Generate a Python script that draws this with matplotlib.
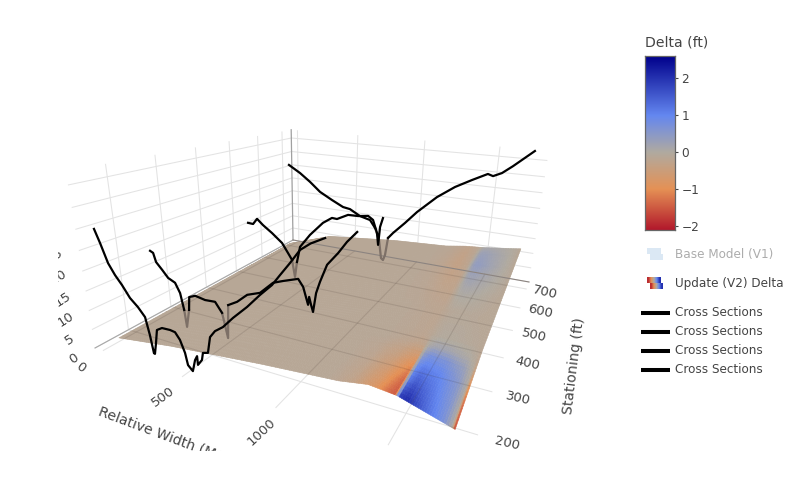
import numpy as np
import matplotlib
matplotlib.use('Agg')
import matplotlib.pyplot as plt
from matplotlib.colors import LinearSegmentedColormap, Normalize
from matplotlib.patches import Polygon
from matplotlib.transforms import Bbox
from mpl_toolkits.mplot3d import proj3d

# Cross sections: stationing of each one, then relative width and elevation
section_stations = [150, 249, 529, 700]
section_width = [
    [0, 26, 60, 95, 132, 173, 217, 255, 272, 284, 290, 305, 321, 354, 403, 432, 457, 480, 491, 517, 536, 550, 551, 577,
     586, 615, 634, 664, 709, 766, 841, 907, 966, 1004, 1051, 1095, 1140, 1200],
    [2, 22, 36, 73, 109, 154, 182, 199, 208, 233, 242, 283, 347, 411, 451, 479, 493, 550, 613, 689, 765, 821, 902, 928,
     953, 959, 969, 979, 995, 1015, 1050, 1103, 1144, 1190],
    [-5, 36, 70, 116, 186, 263, 308, 338, 359, 376, 401, 476, 570, 633, 668, 743, 810, 876, 909, 938, 948, 956, 972],
    [0, 95, 180, 264, 364, 455, 511, 592, 672, 713, 748, 769, 785, 799, 816, 852, 936, 1018, 1149, 1264, 1369, 1465,
     1498, 1550, 1611, 1726],
]
section_elev = [
    [29.8, 26.7, 22.1, 19.5, 17.4, 14.6, 12.8, 10.7, 6.3, 1.7, 1.6, 4.6, 8.2, 9.1, 9.2, 9.0, 7.4, 4.4, 1.4, 0.2, 3.3,
     4.5, 2.3, 3.9, 5.8, 6.2, 10.3, 12.1, 13.6, 16.4, 19.7, 23.0, 25.7, 28.1, 31.0, 33.9, 35.5, 37.0],
    [19.8, 19.4, 17.0, 15.2, 13.3, 12.4, 9.8, 5.2, 0.4, 5.6, 9.3, 10.1, 9.6, 9.8, 7.2, 0.5, 9.8, 11.3, 13.8, 15.1, 18.4,
     19.4, 20.7, 19.0, 14.9, 16.9, 15.0, 13.4, 18.2, 21.1, 25.4, 28.5, 31.3, 33.8],
    [16.0, 15.9, 17.9, 16.1, 13.9, 11.1, 8.0, 5.9, 0.1, 5.5, 10.9, 15.5, 20.1, 22.1, 22.0, 23.8, 23.9, 24.4, 23.4, 19.6,
     16.0, 21.6, 24.4],
    [31.2, 28.7, 25.9, 22.7, 20.3, 18.3, 17.9, 15.9, 15.0, 12.4, 8.2, 1.6, 1.0, 3.0, 9.5, 11.6, 15.8, 20.2, 26.1, 30.1,
     32.9, 35.3, 34.8, 36.0, 38.4, 43.4],
]

# Model surface elevation
surf_x = [0, 350, 870, 1240, 1370, 1490, 1725]
surf_y = [165, 316, 700]
surf_z = [
    [1, 3.2, 5.6, 7, 8.1, 7.5, 3.9],
    [1, 3.8, 6.5, 7.8, 8.5, 8.5, 8],
    [1, 6.5, 9, 10, 11, 11.5, 13],
]

# Delta on the surface
bg = -0.13
delta_x = [0, 1200, 1300, 1400, 1460, 1485, 1500, 1530, 1600, 1680, 1715, 1725]
delta_y = [165, 200, 240, 270, 290, 320, 400, 470, 530, 600, 660, 700]
delta = [
    [bg, bg, -.3, -.8, -1.4, -1.5, 1.9, 2.1, 1.4, .7, 0, -2],
    [bg, bg, -.25, -.65, -1.15, -1.4, 1.2, 1.6, 1.2, .6, 0, -1.8],
    [bg, bg, -.2, -.45, -.8, -1.0, .8, 1.1, 1.0, .5, 0, -1.2],
    [bg, bg, -.17, -.3, -.5, -.5, .35, .7, .65, .3, -.05, -.5],
    [bg, bg, bg, -.2, -.28, -.22, .05, .2, .2, .05, -.1, -.25],
    [bg, bg, bg, -.17, -.2, -.15, -.1, -.05, -.05, -.1, -.13, -.15],
    [bg, bg, bg, -.18, -.2, -.17, -.13, -.1, -.1, -.13, bg, bg],
    [bg, bg, -.16, -.25, -.27, -.1, .02, .05, 0, -.1, bg, bg],
    [bg, bg, -.18, -.32, -.28, .02, .18, .22, .1, -.03, -.1, bg],
    [bg, bg, -.2, -.36, -.22, .2, .38, .38, .2, 0, -.1, bg],
    [bg, bg, -.18, -.32, -.18, .15, .28, .28, .15, 0, -.1, bg],
    [bg, bg, -.16, -.25, -.18, 0, .08, .1, .06, -.03, -.1, bg],
]

x_ticks = [0, 500, 1000, 1500]
y_ticks = [200, 300, 400, 500, 600, 700]
z_ticks = [0, 5, 10, 15, 20, 25, 30, 35, 40]
x_lim = (-55, 1796)
y_lim = (133, 742)
z_lim = (0, 43)

delta_range = (-2.1, 2.6)
bar_ticks = [-2, -1, 0, 1, 2]
legend_names = ['Base Model (V1)', 'Update (V2) Delta']
line_name = 'Cross Sections'

text_grey = '#444444'
cmap = LinearSegmentedColormap.from_list('delta', [
    (0, (178/255, 24/255, 43/255)),
    (1.1/4.7, (229/255, 145/255, 85/255)),
    (2.1/4.7, (176/255, 170/255, 160/255)),
    (3.1/4.7, (100/255, 135/255, 240/255)),
    (1, (0, 0, 139/255)),
])
norm = Normalize(*delta_range)


def table_at(tx, ty, table, fx, fy):
    # value of a table at the mesh points, straight between its entries
    by_row = np.array([np.interp(fx, tx, row) for row in table])
    return np.array([np.interp(fy, ty, col) for col in by_row.T]).T


def camera(xl, yl):
    # the scene's perspective, in output pixels (y up)
    sx = np.diag([1/(xl[1]-xl[0]), 1/(yl[1]-yl[0]), 1/40, 1.0])
    sx[0, 3] = -xl[0]/(xl[1]-xl[0])
    sx[1, 3] = -yl[0]/(yl[1]-yl[0])
    u = np.array([238.4, 387.9, -34.4, 95])
    v = np.array([-11.03, 47.5, -183.07, 348])
    w = np.array([-.28457, .648, -.1085, 1])
    return np.array([u, 494*w - v, [0, 0, 0, -1], w]) @ sx


fig = plt.figure(figsize=(8, 4.94), dpi=100)
ax = fig.add_axes([0, -153/494, 1, 800/494], projection='3d', computed_zorder=False)
ax.set_proj_type('ortho')  # keeps mplot3d from masking lines; the matrix below carries the perspective
M = camera(x_lim, y_lim)
ax.get_proj = lambda: M
ax.patch.set_visible(False)

# shading mesh: fine enough that the colours blend across each table cell
fine_x = np.unique(np.r_[np.arange(0, 1725, 10.0), delta_x])
fine_y = np.unique(np.r_[np.arange(165, 700, 8.0), delta_y])
mx, my = np.meshgrid(fine_x, fine_y)
mz = table_at(surf_x, surf_y, surf_z, fine_x, fine_y)
md = table_at(delta_x, delta_y, delta, fine_x, fine_y)
cell = (md[:-1, :-1] + md[1:, :-1] + md[:-1, 1:] + md[1:, 1:]) / 4
face = np.ones(md.shape + (4,))
face[:-1, :-1] = cmap(norm(cell))

ax.plot([x_lim[0], x_lim[0]], y_lim, [0, 0], color='#a8a8a8', lw=0.8, zorder=1)
ax.plot([x_lim[0], x_lim[0]], [y_lim[1], y_lim[1]], z_lim, color='#a0a0a0', lw=0.9, zorder=1)
ax.plot_surface(mx, my, mz, facecolors=face, rstride=1, cstride=1, shade=False, linewidth=0.4,
                antialiased=True, zorder=2)

# floor grid faintly showing through the surface
edge_x = np.r_[fine_x, np.full(len(fine_y), fine_x[-1]), fine_x[::-1], np.full(len(fine_y), fine_x[0])]
edge_y = np.r_[np.full(len(fine_x), fine_y[0]), fine_y, np.full(len(fine_x), fine_y[-1]), fine_y[::-1]]
edge_z = np.r_[mz[0, :], mz[:, -1], mz[-1, ::-1], mz[::-1, 0]]
px, py, _ = proj3d.proj_transform(edge_x, edge_y, edge_z, M)
outline = Polygon(np.c_[px, py], transform=ax.transData, closed=True)
for xt in x_ticks:
    ln, = ax.plot([xt, xt], y_lim, [0, 0], color=(.25, .2, .18, .14), lw=0.8, zorder=2.5)
    ln.set_clip_path(outline)
for yt in y_ticks:
    ln, = ax.plot(x_lim, [yt, yt], [0, 0], color=(.25, .2, .18, .14), lw=0.8, zorder=2.5)
    ln.set_clip_path(outline)
ax.plot(x_lim, [y_lim[1], y_lim[1]], [0, 0], color='#8c8480', lw=0.8, zorder=2.6)

for st, wd, el in zip(section_stations, section_width, section_elev):
    wd = np.array(wd, dtype=float)
    el = np.array(el, dtype=float)
    if st >= surf_y[0]:
        ground = table_at(surf_x, surf_y, surf_z, wd, np.array([st]))[0]
        under = el < ground
    else:
        under = np.zeros(len(el), dtype=bool)
    near = under | np.r_[under[1:], False] | np.r_[False, under[:-1]]
    ax.plot(wd, np.full(len(wd), st), np.where(near, el, np.nan), color='#7d7067', lw=1.6, zorder=3)
    ax.plot(wd, np.full(len(wd), st), np.where(under, np.nan, el), color='black', lw=1.6, zorder=4)

ax.set_xlim(*x_lim, view_margin=0)
ax.set_ylim(*y_lim, view_margin=0)
ax.set_zlim(*z_lim, view_margin=0)
ax.set_xticks(x_ticks)
ax.set_yticks(y_ticks)
ax.set_zticks(z_ticks)
ax.set_xticklabels([])
ax.set_yticklabels([])
ax.set_zticklabels([])
for axis in (ax.xaxis, ax.yaxis, ax.zaxis):
    axis.set_pane_color((1, 1, 1, 0))
    axis.pane.set_edgecolor((1, 1, 1, 0))
    axis.line.set_color((1, 1, 1, 0))
    axis._axinfo['grid'].update(color='#e3e3e3', linewidth=0.75)
    axis._axinfo['tick'].update(inward_factor=0, outward_factor=0)

ax.viewLim.intervalx = (0, 800)
ax.viewLim.intervaly = (-153, 647)

# everything outside the scene, laid out in picture pixels
over = fig.add_axes([0, 0, 1, 1])
over.axis('off')
scene_clip = Bbox([[58, 43], [800, 494]])


def scene_label(x, y, z, s, rotation):
    # tick label at a scene position, cut at the scene's edges like the reference
    lx, ly, _ = proj3d.proj_transform(x, y, z, M)
    t = over.text(lx, 494 - ly, s, rotation=rotation, ha='center', va='center', fontsize=9.5, color=text_grey)
    t.set_clip_box(scene_clip)
    t.set_clip_on(True)


for xt, rot in zip(x_ticks, [-35, 36, 43, 45]):
    scene_label(xt + 30, 85, 0, str(xt), rot)
for yt in y_ticks:
    scene_label(1907, yt, 0, str(yt), -13)
for zt in z_ticks:
    scene_label(-62, 96, zt*1.02, str(zt), 33)

t = over.text(99, 411, 'Relative Width (Meters)', rotation=-20.5, rotation_mode='anchor', ha='left', va='center',
              fontsize=10.1, color=text_grey)
t.set_clip_box(scene_clip)
t.set_clip_on(True)
over.text(574, 366, 'Stationing (ft)', rotation=83, rotation_mode='anchor', ha='center', va='center',
          fontsize=10.1, color=text_grey)

bar = fig.add_axes([645/800, (494-230)/494, 30/800, 174/494])
bar.imshow(np.linspace(delta_range[1], delta_range[0], 256)[:, None], cmap=cmap, norm=norm, aspect='auto',
           extent=(0, 1, delta_range[0], delta_range[1]))
bar.set_xticks([])
bar.yaxis.tick_right()
bar.set_yticks(bar_ticks)
bar.tick_params(axis='y', length=2.5, width=0.8, color=text_grey, labelcolor=text_grey, labelsize=8.7, pad=2)
for sp in bar.spines.values():
    sp.set_edgecolor('#666666')
    sp.set_linewidth(0.9)
over.text(645, 43, 'Delta (ft)', fontsize=10.1, color=text_grey, ha='left', va='center')

over.text(675, 254.5, legend_names[0], fontsize=8.65, color='#acacac', va='center')
over.text(675, 283.5, legend_names[1], fontsize=8.65, color=text_grey, va='center')
pale = np.array([[0.86, 0.91, 0.96]])[None]
over.imshow(pale, extent=(647, 661, 254, 248), aspect='auto', zorder=2)
over.imshow(pale, extent=(650, 663, 260, 254), aspect='auto', zorder=2)
icon = np.array([[-1.9, -1, 0, 1, 2]])
over.imshow(icon, extent=(647, 661, 283, 277), aspect='auto', cmap=cmap, norm=norm, zorder=2, interpolation='bilinear')
over.imshow(icon, extent=(650, 663, 289, 283), aspect='auto', cmap=cmap, norm=norm, zorder=2, interpolation='bilinear')
for ly in [312.5, 331.5, 350.5, 369.5]:
    over.plot([641, 670], [ly, ly], color='black', lw=2.9, solid_capstyle='butt')
    over.text(675, ly, line_name, fontsize=8.65, color=text_grey, va='center')
over.set_xlim(0, 800)
over.set_ylim(494, 0)

fig.savefig('out.png', dpi=100)
